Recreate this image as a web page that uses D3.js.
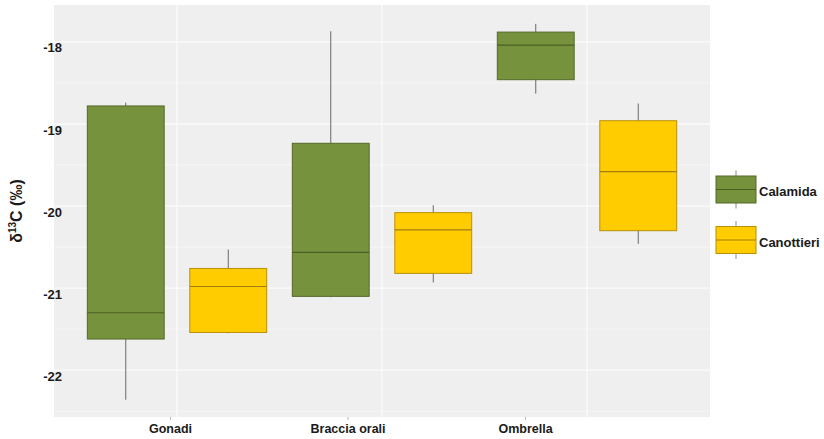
<!DOCTYPE html>
<html>
<head>
<meta charset="utf-8">
<script src="https://cdn.jsdelivr.net/npm/d3@7"></script>
<style>
  html, body { margin: 0; padding: 0; background: #fff; }
  svg { display: block; font-family: "Liberation Sans", Arial, sans-serif; }
</style>
</head>
<body>
<svg id="chart" width="824" height="439"></svg>
<script>
// Tissues sampled and the two sites compared
const categories = ["Gonadi", "Braccia orali", "Ombrella"];
const seriesNames = ["Calamida", "Canottieri"];

// Box statistics per tissue: [lower whisker, Q1, median, Q3, upper whisker]
const calamida = [
  [-22.36, -21.62, -21.30, -18.78, -18.74],
  [-21.11, -21.10, -20.565, -19.235, -17.87],
  [-18.63, -18.46, -18.04, -17.88, -17.78]
];
const canottieri = [
  [-21.55, -21.54, -20.98, -20.76, -20.53],
  [-20.93, -20.82, -20.29, -20.08, -19.99],
  [-20.46, -20.30, -19.58, -18.96, -18.75]
];

const yTicks = [-22, -21, -20, -19, -18];
const yMinor = [-22.5, -21.5, -20.5, -19.5, -18.5];

const fills = { Calamida: "#77923c", Canottieri: "#ffcc00" };
const strokes = { Calamida: "#55692b", Canottieri: "#b8900a" };
const medians = { Calamida: "#4b5e24", Canottieri: "#a07e10" };

const svg = d3.select("#chart");
const panel = { left: 54, right: 710, top: 5, bottom: 417 };

const y = d3.scaleLinear().domain([-22.57, -17.55]).range([panel.bottom, panel.top]);
const x = d3.scalePoint().domain(categories).range([panel.left, panel.right]).padding(0.6);
const xLab = d3.scalePoint().domain(categories).range([170, 525]);
const step = x.step();
const dodge = d3.scaleOrdinal().domain(seriesNames).range([-0.25 * step, 0.25 * step]);
const boxW = 0.375 * step;

// Panel background and grid
svg.append("rect")
  .attr("x", panel.left).attr("y", panel.top)
  .attr("width", panel.right - panel.left).attr("height", panel.bottom - panel.top)
  .attr("fill", "#efefef");

const grid = svg.append("g");
grid.selectAll("line.minor").data(yMinor).join("line")
  .attr("x1", panel.left).attr("x2", panel.right)
  .attr("y1", d => y(d)).attr("y2", d => y(d))
  .attr("stroke", "#fafafa").attr("stroke-width", 0.7);
grid.selectAll("line.major").data(yTicks).join("line")
  .attr("x1", panel.left).attr("x2", panel.right)
  .attr("y1", d => y(d)).attr("y2", d => y(d))
  .attr("stroke", "#fbfbfb").attr("stroke-width", 1.3);
grid.selectAll("line.vert").data(categories).join("line")
  .attr("x1", d => x(d)).attr("x2", d => x(d))
  .attr("y1", panel.top).attr("y2", panel.bottom)
  .attr("stroke", "#fbfbfb").attr("stroke-width", 1.3);

// Boxes
const rows = [];
categories.forEach((c, i) => {
  rows.push({ cat: c, s: "Calamida", v: calamida[i] });
  rows.push({ cat: c, s: "Canottieri", v: canottieri[i] });
});

const boxes = svg.append("g").selectAll("g").data(rows).join("g")
  .attr("transform", d => `translate(${x(d.cat) + dodge(d.s)},0)`);

boxes.append("line")
  .attr("x1", 0).attr("x2", 0)
  .attr("y1", d => y(d.v[0])).attr("y2", d => y(d.v[4]))
  .attr("stroke", "#6a6a6a").attr("stroke-width", 1);

boxes.append("rect")
  .attr("x", -boxW / 2).attr("width", boxW)
  .attr("y", d => y(d.v[3])).attr("height", d => y(d.v[1]) - y(d.v[3]))
  .attr("fill", d => fills[d.s]).attr("stroke", d => strokes[d.s]).attr("stroke-width", 1);

boxes.append("line")
  .attr("x1", -boxW / 2).attr("x2", boxW / 2)
  .attr("y1", d => y(d.v[2])).attr("y2", d => y(d.v[2]))
  .attr("stroke", d => medians[d.s]).attr("stroke-width", 1.2);

// Y axis labels
svg.append("g").selectAll("text").data(yTicks).join("text")
  .attr("x", 62).attr("y", d => y(d) + 6)
  .attr("dy", "0.35em")
  .attr("text-anchor", "end")
  .attr("font-size", 13).attr("font-weight", "bold").attr("fill", "#1a1a1a")
  .text(d => d);

// X axis: small ticks and tissue labels
const xAxis = d3.axisBottom(xLab).tickSize(3).tickPadding(4);
const gx = svg.append("g").attr("transform", `translate(0,${panel.bottom})`).call(xAxis);
gx.select(".domain").remove();
gx.selectAll(".tick line").attr("stroke", "#bbbbbb");
gx.selectAll(".tick text")
  .attr("font-size", 12.5).attr("font-weight", "bold").attr("fill", "#1a1a1a")
  .attr("font-family", "Liberation Sans, Arial, sans-serif");

// Y axis title
const title = svg.append("text")
  .attr("transform", "translate(22,211) rotate(-90)")
  .attr("text-anchor", "middle")
  .attr("font-size", 16).attr("font-weight", "bold").attr("fill", "#1a1a1a");
title.append("tspan").text("δ");
title.append("tspan").attr("font-size", 10).attr("dy", -6).text("13");
title.append("tspan").attr("dy", 6).text("C (‰)");

// Legend
const legendY = d3.scaleOrdinal().domain(seriesNames).range([189.5, 240]);
const lg = svg.append("g").selectAll("g").data(seriesNames).join("g")
  .attr("transform", d => `translate(736,${legendY(d)})`);
lg.append("line").attr("x1", 0).attr("x2", 0).attr("y1", -19).attr("y2", 19)
  .attr("stroke", "#8a8a8a").attr("stroke-width", 1);
lg.append("rect").attr("x", -20).attr("y", -13.5).attr("width", 40).attr("height", 27)
  .attr("fill", d => fills[d]).attr("stroke", d => strokes[d]).attr("stroke-width", 1);
lg.append("line").attr("x1", -20).attr("x2", 20).attr("y1", 0).attr("y2", 0)
  .attr("stroke", d => medians[d]).attr("stroke-width", 1.2);
lg.append("text").attr("x", 23).attr("y", 2).attr("dy", "0.35em")
  .attr("font-size", 13).attr("font-weight", "bold").attr("fill", "#1a1a1a")
  .text(d => d);
</script>
</body>
</html>
